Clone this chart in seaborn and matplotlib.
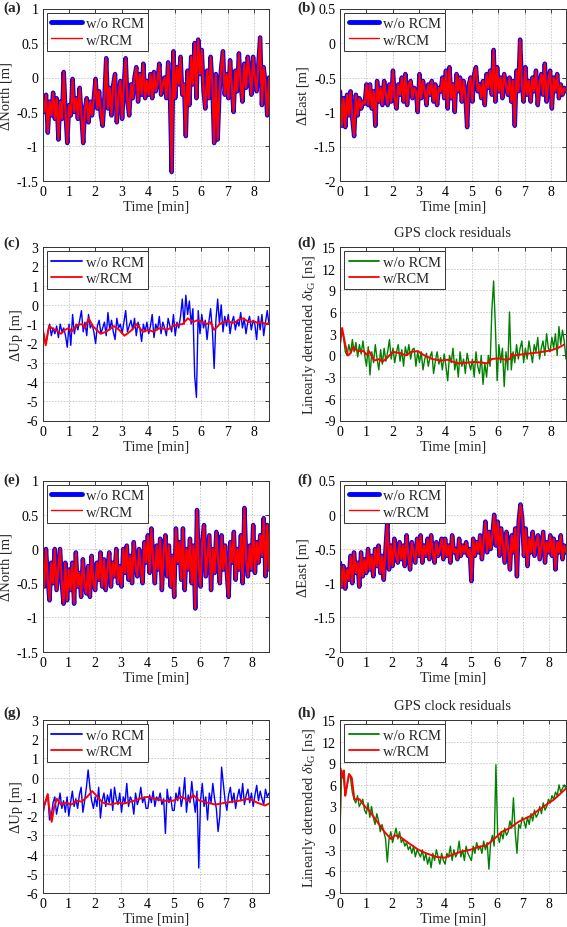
import numpy as np
import pandas as pd
import matplotlib
matplotlib.use('Agg')
import matplotlib.pyplot as plt
import seaborn as sns
from matplotlib.ticker import FuncFormatter

# ---------------- data ----------------
TMAX_TOP = 8.57   # rows 1-2
TMAX_BOT = 8.65   # rows 3-4

# (a) dNorth, w/o RCM and w/RCM practically identical
north_a_wo = [
    -0.3, -0.5, -0.25, -0.8, -0.35, -0.55, -0.22, -0.6, -0.3, -0.9, -0.35, -0.6, 0.08, -0.5, -0.95,
    -0.4, -0.55, -0.02, -0.5, -0.3, -0.6, -0.15, -0.55, -0.95, -0.45, -0.3, -0.65, -0.35, -0.55, -0.3,
    -0.02, -0.45, -0.2, -0.55, -0.7, -0.3, 0.28, -0.45, -0.15, -0.55, -0.1, 0.05, -0.65, -0.25, -0.05,
    -0.6, -0.1, 0.28, -0.35, -0.55, -0.1, -0.3, 0.0, 0.15, -0.35, 0.05, -0.25, 0.2, -0.3, -0.05,
    -0.25, 0.05, -0.3, 0.08, -0.2, -0.05, 0.2, -0.25, -0.1, 0.0, -0.3, 0.22, -0.2, -1.37, 0.38,
    -0.3, 0.15, -0.1, 0.3, -0.25, -0.1, -0.85, 0.1, -0.4, 0.3, -0.1, 0.5, -0.3, 0.55, 0.05,
    0.4, -0.2, -0.45, 0.1, -0.3, 0.3, -0.1, -0.95, 0.05, -0.9, -0.2, 0.15, 0.38, -0.25, 0.05,
    -0.3, 0.25, -0.15, -0.5, 0.1, -0.2, 0.35, -0.1, -0.35, 0.2, -0.15, 0.3, 0.05, -0.25, 0.3,
    0.0, -0.2, 0.2, 0.58, -0.4, 0.15, -0.1, -0.55, 0.0]
north_a_rcm = north_a_wo

# (b) dEast
east_b_wo = [
    -0.7, -1.2, -0.8, -1.22, -0.75, -1.05, -0.7, -1.1, -1.35, -0.75, -1.05, -0.8, -0.95, -0.85, -0.88,
    -0.6, -0.9, -0.6, -0.95, -0.7, -1.2, -0.55, -0.85, -0.65, -0.9, -0.55, -0.75, -0.9, -0.6, -0.85,
    -0.4, -0.8, -0.95, -0.6, -0.75, -0.5, -0.85, -0.45, -0.9, -0.6, -0.55, -0.8, -0.65, -0.7, -1.0,
    -0.45, -0.8, -0.55, -0.7, -0.9, -0.6, -0.75, -0.55, -0.85, -0.6, -0.9, -0.65, -0.7, -0.5, -0.8,
    -0.4, -0.95, -0.35, -0.8, -0.6, -1.0, -0.45, -0.7, -0.5, -0.85, -0.55, -0.75, -1.22, -0.6, -0.5,
    -0.85, -0.45, -0.35, -0.7, -0.6, -0.8, -0.55, -0.9, -0.45, -0.65, -0.4, -0.75, -0.1, -0.85, -0.35,
    -0.7, -0.5, -0.8, -0.45, -0.6, -0.75, -0.5, -0.85, -0.55, -1.2, -0.4, -0.7, 0.05, -0.6, -0.85,
    -0.35, -0.75, -0.55, -0.85, -0.5, -0.7, -0.4, -0.9, -0.6, -0.45, -0.75, -0.3, -0.85, -0.55, -0.4,
    -0.95, -0.5, -0.7, -0.45, -0.8, -0.6, -0.75, -0.65, -0.7]
east_b_rcm = east_b_wo

# (c) dUp
up_c_wo = [
    -1.3, -1.8, -2.0, -1.4, -1.0, -1.6, -1.2, -1.5, -1.1, -1.7, -1.0, -1.4, -1.2, -1.6, -2.2,
    -1.0, -2.1, -0.5, -1.5, -1.0, -1.3, -0.8, -0.3, -1.4, -0.9, -1.6, -0.5, -1.2, -1.0, -1.4,
    -2.0, -1.1, -0.8, -1.5, -1.2, -0.9, -1.6, -0.4, -1.3, -0.8, -1.4, -1.8, -0.7, -1.2, -1.0,
    -1.5, -0.9, -0.3, -1.4, -1.1, -0.8, -1.3, -0.7, -1.6, -0.9, -1.2, -1.9, -1.0, -1.4, -0.9,
    -1.5, -1.1, -0.5, -1.7, -1.0, -1.3, -0.6, -1.5, -0.9, -1.2, -1.6, -0.7, -1.1, -1.4, -0.5,
    -1.6, -0.9, -1.2, -0.6, 0.3, -1.0, 0.5, -0.5, 0.2, -1.0, -0.2, -3.7, -4.8, -0.3, -1.5,
    -0.5, -1.2, -0.8, -1.8, -0.9, -0.2, -1.3, -3.3, -0.8, 0.3, -1.0, 0.0, -1.4, -0.6, -1.1,
    -0.5, -1.5, -0.9, -0.6, -1.3, -0.8, -1.1, -0.4, -1.2, -0.7, -1.5, -0.9, -0.6, -1.3, -0.8,
    -1.0, -1.8, -0.6, -1.3, -0.5, -1.6, -0.9, -0.3, -1.0]
up_c_rcm_t = [0, 0.05, 0.12, 0.25, 0.4, 0.5, 0.7, 0.85, 1.0, 1.1, 1.3, 1.5, 1.6, 1.75, 1.9,
              2.05, 2.2, 2.4, 2.55, 2.7, 2.9, 3.1, 3.3, 3.45, 3.55, 3.8, 4.0, 4.2, 4.35, 4.5,
              4.7, 4.9, 5.0, 5.3, 5.5, 5.7, 5.85, 6.0, 6.2, 6.35, 6.5, 6.7, 6.85, 7.0, 7.15,
              7.3, 7.45, 7.6, 7.8, 8.0, 8.15, 8.3, 8.45, 8.55]
up_c_rcm = [-1.3, -1.5, -2.1, -1.1, -1.25, -1.3, -1.5, -1.3, -1.2, -1.4, -1.05, -1.0, -1.2, -0.7, -1.1,
            -1.3, -1.5, -1.4, -1.25, -1.1, -1.3, -1.6, -1.4, -1.2, -1.0, -1.4, -1.3, -1.4, -1.25, -1.2,
            -1.3, -1.15, -1.05, -1.0, -0.7, -0.9, -0.8, -0.85, -1.0, -0.9, -1.3, -1.0, -0.9, -0.8, -0.95,
            -0.9, -0.75, -0.7, -0.9, -0.85, -0.95, -0.9, -1.0, -0.95]

# (d) GPS clock residuals
clk_d_wo = [
    1.5, 3.5, 2.5, 0.5, 0.0, 1.5, 0.3, 2.2, 0.5, 1.8, -0.2, 1.5, 0.2, 2.0, 0.0,
    -1.5, 1.2, -2.7, 0.5, -1.0, 1.5, -0.5, -2.0, 0.8, -1.2, 1.0, -0.8, 0.5, 2.2, -0.5,
    1.0, -1.0, 0.5, 1.5, -0.8, 0.8, -1.5, 1.2, 0.0, 1.5, -0.5, 0.8, 1.0, -1.5, 0.5,
    -1.0, 0.5, -2.0, -0.5, 0.3, -1.5, -0.2, 0.5, -2.5, -0.8, 0.5, -1.2, -0.3, -2.0, 0.2,
    -1.5, -3.5, 0.0, -1.0, 1.0, -2.0, -0.5, -3.0, 0.5, -1.5, -0.5, -2.5, 0.3, -1.0, -2.0,
    -0.5, -3.0, 0.5, -1.5, -2.5, 0.0, -4.0, -1.0, -3.0, 0.0, -1.5, 6.2, 10.3, 4.0, -3.5,
    1.5, -1.0, 1.0, -4.3, 0.5, -2.0, 6.0, -2.0, 0.5, -1.0, 1.5, -0.5, 1.0, 2.0, -1.0,
    1.0, -0.5, 2.0, 0.5, -1.0, 1.5, 0.5, 2.5, -0.5, 1.0, 2.0, 0.0, 3.0, 1.0, 0.5,
    2.5, 1.0, 3.0, 0.0, 4.0, 1.5, 3.5, 2.0, -0.5]
clk_d_rcm_t = [0, 0.08, 0.2, 0.3, 0.4, 0.5, 0.6, 0.7, 0.9, 1.0, 1.1, 1.3, 1.5, 1.6, 1.8,
               2.0, 2.3, 2.5, 2.7, 2.95, 3.2, 3.5, 3.8, 4.1, 4.3, 4.5, 4.8, 5.1, 5.4, 5.6,
               5.75, 6.0, 6.3, 6.45, 6.5, 6.6, 7.0, 7.5, 8.0, 8.3, 8.5]
clk_d_rcm = [1.5, 3.8, 1.5, 0.0, 0.3, 1.2, 0.8, 0.6, 0.6, 0.1, 0.6, -0.7, -0.5, -0.9, -0.3,
             0.5, 0.3, 0.0, 0.5, 0.6, 0.0, -0.5, -0.7, -0.6, -0.9, -1.1, -1.0, -0.9, -1.0, -1.1,
             -0.5, -0.4, -0.6, -0.5, 0.2, 0.0, 0.2, 0.4, 0.7, 1.1, 1.5]

# (e) dNorth
north_e_wo = [
    -0.1, -0.55, 0.0, -0.45, -0.75, -0.2, -0.5, 0.0, -0.6, -0.3, 0.0, -0.5, -0.8, -0.2, -0.75,
    -0.3, -0.6, -0.2, -0.8, -0.05, -0.55, -0.35, -0.7, -0.15, -0.5, -0.65, -0.25, -0.7, -0.1, -0.5,
    -0.6, -0.2, -0.45, -0.05, -0.55, -0.15, -0.6, -0.3, -0.05, -0.55, -0.2, -0.4, 0.0, -0.5, -0.25,
    -0.55, 0.0, -0.35, 0.05, -0.45, -0.1, -0.5, 0.1, -0.25, -0.4, 0.0, -0.3, -0.5, 0.1, -0.2,
    0.2, -0.35, 0.3, -0.15, -0.5, 0.05, -0.3, 0.15, -0.6, -0.05, 0.2, -0.4, 0.05, -0.55, -0.1,
    -0.7, 0.3, -0.2, 0.1, -0.45, 0.3, -0.6, 0.0, -0.3, 0.15, -0.5, 0.05, -0.87, 0.57, -0.25,
    -0.55, 0.1, 0.35, -0.4, -0.1, 0.2, -0.6, 0.0, -0.35, 0.25, -0.15, -0.5, 0.2, -0.3, 0.05,
    -0.35, -0.7, 0.1, -0.2, 0.25, -0.45, 0.0, -0.3, 0.2, -0.5, 0.6, -0.15, -0.4, 0.05, -0.3,
    0.35, -0.35, 0.1, -0.2, 0.2, -0.1, 0.45, -0.4, 0.35, -0.3]
north_e_rcm = north_e_wo

# (f) dEast
east_f_wo = [
    -0.7, -1.05, -0.75, -1.08, -0.8, -0.95, -0.6, -1.0, -0.55, -0.85, -0.7, -1.05, -0.55, -0.9, -0.65,
    -0.85, -0.5, -0.8, -0.6, -0.9, -0.5, -0.75, -0.45, -0.85, -0.6, -0.95, -0.5, -0.1, -0.8, -0.45,
    -0.75, -0.35, -0.6, -0.7, -0.4, -0.65, -0.45, -0.75, -0.3, -0.6, -0.8, -0.4, -0.55, -0.7, -0.35,
    -0.6, -0.3, -0.7, -0.45, -0.6, -0.35, -0.65, -0.3, -0.55, -0.7, -0.4, -0.6, -0.5, -0.35, -0.65,
    -0.35, -0.6, -0.45, -0.7, -0.3, -0.55, -0.5, -0.65, -0.35, -0.6, -0.45, -0.55, -0.4, -0.6, -0.5,
    -0.97, -0.35, -0.6, -0.4, -0.55, -0.3, -0.65, -0.4, -0.1, -0.55, -0.25, -0.5, -0.3, 0.0, -0.45,
    -0.1, -0.6, -0.2, -0.45, -0.7, -0.25, -0.5, -0.8, -0.3, -0.55, -0.2, -0.9, -0.1, 0.15, -0.05,
    -0.6, -0.2, -0.75, -0.35, -0.55, -0.25, -0.6, -0.4, -0.3, -0.65, -0.45, -0.25, -0.7, -0.4, -0.55,
    -0.3, -0.6, -0.35, -0.8, -0.4, -0.55, -0.3, -0.65, -0.45, -0.55]
east_f_rcm = east_f_wo

# (g) dUp
up_g_wo = [
    -2.0, -1.5, -1.2, -0.9, -2.2, -2.0, -1.3, -1.0, -1.9, -1.4, -0.8, -1.6, -1.2, -1.8, -1.0,
    -2.0, -1.3, -0.7, -1.5, -1.1, -1.6, -0.9, -0.5, -1.8, -1.2, -0.5, 0.4, -0.5, -1.2, -1.6,
    -1.0, -1.5, -0.5, -2.1, -1.2, -0.8, -1.5, -0.9, -1.3, -0.6, -1.7, -0.5, -1.1, -1.4, -0.8,
    -1.8, -1.0, -1.3, -0.3, -1.5, -1.0, -1.2, -1.9, -0.8, -1.4, -1.1, -0.5, -1.3, -1.0, -1.6,
    -1.6, -0.9, -1.3, -0.7, -1.5, -1.0, -1.2, -0.8, -1.4, -1.1, -2.9, -0.6, -1.3, -1.0, -1.7,
    -1.7, -0.8, -1.2, -0.5, -1.5, -1.0, 0.0, -1.8, -0.9, -1.3, -0.2, -1.1, -1.8, -0.7, -4.7,
    -1.2, -0.3, -1.5, -1.0, -2.2, -0.8, -1.3, -0.3, -1.1, -1.6, -2.8, -2.0, 0.55, -0.3, -1.2,
    -1.7, -0.9, -0.5, -1.3, -0.8, -1.6, -1.0, -0.6, -1.2, -0.3, -1.4, -0.9, -0.6, -1.3, -0.8,
    -1.5, -0.9, -0.4, -1.2, -0.7, -1.1, -1.4, -0.6, -1.0, -0.8]
up_g_rcm_t = [0, 0.05, 0.2, 0.25, 0.35, 0.45, 0.55, 0.7, 0.9, 1.1, 1.3, 1.5, 1.7, 1.9, 2.1,
              2.3, 2.6, 2.9, 3.1, 3.5, 3.7, 4.0, 4.3, 4.6, 5.0, 5.3, 5.6, 5.75, 6.0, 6.3,
              6.6, 7.0, 7.5, 7.9, 8.2, 8.5, 8.65]
up_g_rcm = [-2.0, -1.5, -0.85, -1.5, -2.3, -1.5, -1.1, -1.4, -1.3, -1.4, -1.2, -1.25, -1.0, -0.7, -1.0,
            -1.3, -1.4, -1.3, -1.35, -1.2, -1.1, -1.0, -1.1, -1.2, -1.2, -1.0, -1.2, -0.9, -1.2, -1.3,
            -1.4, -1.3, -1.2, -1.1, -1.3, -1.45, -1.35]

# (h) GPS clock residuals
clk_h_wo = [
    0.0, 8.0, 7.0, 4.5, 6.0, 7.5, 7.0, 5.0, 4.0, 3.5, 4.5, 3.0, 3.5, 4.0, 2.5,
    2.0, 3.5, 1.5, 3.0, 1.5, 0.5, 2.0, 1.0, -0.5, 0.5, -0.5, -1.5, -4.7, -1.5, -0.5,
    -2.0, -1.0, 0.0, -1.5, -0.5, -2.0, -1.5, -2.5, -2.0, -3.0, -2.5, -3.5, -2.5, -4.0, -3.0,
    -3.5, -4.0, -3.0, -4.5, -3.5, -5.0, -4.0, -5.5, -3.5, -4.5, -3.0, -4.0, -5.0, -3.5, -4.5,
    -5.0, -3.5, -4.0, -2.5, -4.5, -3.0, -4.0, -3.5, -1.8, -4.0, -3.0, -4.5, -2.5, -3.5, -4.0,
    -4.5, -2.5, -3.5, -2.0, -3.0, -2.5, -3.5, -1.8, -3.0, -2.0, -5.7, -2.0, -1.0, -2.5, 8.8,
    -1.0, -2.0, -0.5, -1.5, 0.0, -1.0, -0.5, 1.0, 0.0, 4.2, -0.5, -3.5, 0.5, 0.0, 1.5,
    1.0, 0.0, 1.5, 0.5, 2.0, 1.0, 2.5, 1.5, 2.0, 3.0, 2.0, 3.5, 2.5, 3.0, 4.0,
    3.5, 4.5, 4.0, 5.0, 4.5, 6.0, 5.0, 5.5, 6.0, 5.5]
clk_h_rcm_t = [0, 0.02, 0.1, 0.15, 0.2, 0.25, 0.35, 0.45, 0.55, 0.75, 0.95, 1.1, 1.3, 1.5, 1.7,
               1.95, 2.1, 2.3, 2.6, 3.0, 3.3, 3.7, 4.0, 4.3, 4.6, 5.0, 5.3, 5.6, 5.9, 6.2,
               6.5, 6.8, 7.0, 7.3, 7.6, 7.8, 8.2, 8.5, 8.65]
clk_h_rcm = [0.0, 8.3, 7.0, 8.0, 4.5, 5.5, 7.5, 7.0, 4.0, 4.0, 3.0, 2.5, 1.5, 0.5, -0.5,
             -1.5, -1.0, -1.2, -2.0, -3.0, -3.5, -4.0, -4.1, -3.7, -3.3, -3.0, -2.6, -2.4, -1.5, -0.5,
             0.0, 0.8, 1.2, 1.7, 2.5, 3.0, 4.0, 5.0, 5.5]

x_ticks = [0, 1, 2, 3, 4, 5, 6, 7, 8]
yt_north = [-1.5, -1, -0.5, 0, 0.5, 1]
yt_east = [-2, -1.5, -1, -0.5, 0, 0.5]
yt_up = [-6, -5, -4, -3, -2, -1, 0, 1, 2, 3]
yt_clk = [-9, -6, -3, 0, 3, 6, 9, 12, 15]
label_wo = 'w/o RCM'
label_rcm = 'w/RCM'

# ---------------- style ----------------
sns.set_theme(style='white')
plt.rcParams.update({
    'font.family': ['Liberation Serif', 'DejaVu Serif'],
    'mathtext.fontset': 'custom',
    'mathtext.rm': 'Liberation Serif',
    'mathtext.it': 'Liberation Serif:italic',
    'axes.unicode_minus': False,
    'font.size': 10,
})

W, H = 567, 928
fig = plt.figure(figsize=(W / 100, H / 100), dpi=100)

def rect(left, top, right, bottom):
    return [left / W, 1 - bottom / H, (right - left) / W, (bottom - top) / H]

BLUE = '#0000ff'
RED = '#ff0000'
GREEN = '#008000'

def panel(r, series, ylim, yticks, ylabel, xmax, legend_lw, title=None):
    ax = fig.add_axes(r)
    for t, v, color, lw, name in series:
        df = pd.DataFrame({'t': t, 'v': v})
        sns.lineplot(data=df, x='t', y='v', ax=ax, color=color, linewidth=lw,
                     label=name, estimator=None, sort=False)
    ax.set_xlim(0, xmax)
    ax.set_ylim(*ylim)
    ax.set_xticks(x_ticks)
    ax.set_yticks(yticks)
    fmt = FuncFormatter(lambda val, p: f'{val:g}')
    ax.yaxis.set_major_formatter(fmt)
    ax.xaxis.set_major_formatter(fmt)
    ax.set_axisbelow(True)
    ax.grid(True, color='#c8c8c8', linestyle=(0, (1.5, 1.5)), linewidth=0.7)
    ax.tick_params(direction='in', length=3, width=0.6, top=True, right=True,
                   labelsize=10, pad=3, colors='#222222', labelcolor='black')
    for s in ax.spines.values():
        s.set_color('#333333')
        s.set_linewidth(0.7)
    ax.set_xlabel('Time [min]', fontsize=10.5, labelpad=1)
    ax.set_ylabel(ylabel, fontsize=10.5, labelpad=3)
    leg = ax.legend(loc='upper left', fontsize=10.5, frameon=True, fancybox=False,
                    framealpha=1, edgecolor='#333333', borderpad=0.3, labelspacing=0.2,
                    handlelength=2.1, handletextpad=0.25, borderaxespad=0.3)
    leg.get_frame().set_linewidth(0.7)
    for line, lw in zip(leg.get_lines(), legend_lw):
        line.set_linewidth(lw)
    if title:
        ax.set_title(title, fontsize=10.5, pad=8)
    return ax

def tlin(vals, tmax):
    return np.linspace(0, tmax, len(vals))

L1, R1 = 42.5, 269
L2, R2 = 340, 566
rows = [(9.5, 182), (248, 421.5), (481.5, 652.7), (721, 894)]

clk_label = r'Linearly detrended $\delta$t$_\mathrm{G}$ [ns]'
LEG_THICK = (3.5, 1.0)
LEG_THIN = (1.3, 1.3)

panel(rect(L1, rows[0][0], R1, rows[0][1]),
      [(tlin(north_a_wo, TMAX_TOP), north_a_wo, BLUE, 3.2, label_wo),
       (tlin(north_a_rcm, TMAX_TOP), north_a_rcm, RED, 1.6, label_rcm)],
      (-1.5, 1), yt_north, 'ΔNorth [m]', TMAX_TOP, LEG_THICK)
panel(rect(L2, rows[0][0], R2, rows[0][1]),
      [(tlin(east_b_wo, TMAX_TOP), east_b_wo, BLUE, 3.2, label_wo),
       (tlin(east_b_rcm, TMAX_TOP), east_b_rcm, RED, 1.6, label_rcm)],
      (-2, 0.5), yt_east, 'ΔEast [m]', TMAX_TOP, LEG_THICK)
panel(rect(L1, rows[1][0], R1, rows[1][1]),
      [(tlin(up_c_wo, TMAX_TOP), up_c_wo, BLUE, 1.0, label_wo),
       (up_c_rcm_t, up_c_rcm, RED, 1.4, label_rcm)],
      (-6, 3), yt_up, 'ΔUp [m]', TMAX_TOP, LEG_THIN)
panel(rect(L2, rows[1][0], R2, rows[1][1]),
      [(tlin(clk_d_wo, TMAX_TOP), clk_d_wo, GREEN, 1.0, label_wo),
       (clk_d_rcm_t, clk_d_rcm, RED, 1.4, label_rcm)],
      (-9, 15), yt_clk, clk_label, TMAX_TOP, LEG_THIN, title='GPS clock residuals')
panel(rect(L1, rows[2][0], R1, rows[2][1]),
      [(tlin(north_e_wo, TMAX_BOT), north_e_wo, BLUE, 3.2, label_wo),
       (tlin(north_e_rcm, TMAX_BOT), north_e_rcm, RED, 1.6, label_rcm)],
      (-1.5, 1), yt_north, 'ΔNorth [m]', TMAX_BOT, LEG_THICK)
panel(rect(L2, rows[2][0], R2, rows[2][1]),
      [(tlin(east_f_wo, TMAX_BOT), east_f_wo, BLUE, 3.2, label_wo),
       (tlin(east_f_rcm, TMAX_BOT), east_f_rcm, RED, 1.6, label_rcm)],
      (-2, 0.5), yt_east, 'ΔEast [m]', TMAX_BOT, LEG_THICK)
panel(rect(L1, rows[3][0], R1, rows[3][1]),
      [(tlin(up_g_wo, TMAX_BOT), up_g_wo, BLUE, 1.0, label_wo),
       (up_g_rcm_t, up_g_rcm, RED, 1.4, label_rcm)],
      (-6, 3), yt_up, 'ΔUp [m]', TMAX_BOT, LEG_THIN)
panel(rect(L2, rows[3][0], R2, rows[3][1]),
      [(tlin(clk_h_wo, TMAX_BOT), clk_h_wo, GREEN, 1.0, label_wo),
       (clk_h_rcm_t, clk_h_rcm, RED, 1.4, label_rcm)],
      (-9, 15), yt_clk, clk_label, TMAX_BOT, LEG_THIN, title='GPS clock residuals')

panel_labels = [('(a)', 3, 2), ('(b)', 297, 2), ('(c)', 3, 237), ('(d)', 297, 237),
                ('(e)', 3, 474), ('(f)', 297, 474), ('(g)', 3, 707), ('(h)', 297, 707)]
for txt, px, py in panel_labels:
    fig.text(px / W, 1 - py / H, txt, fontsize=11, fontweight='bold', ha='left', va='top')

fig.savefig('out.png', dpi=100)
